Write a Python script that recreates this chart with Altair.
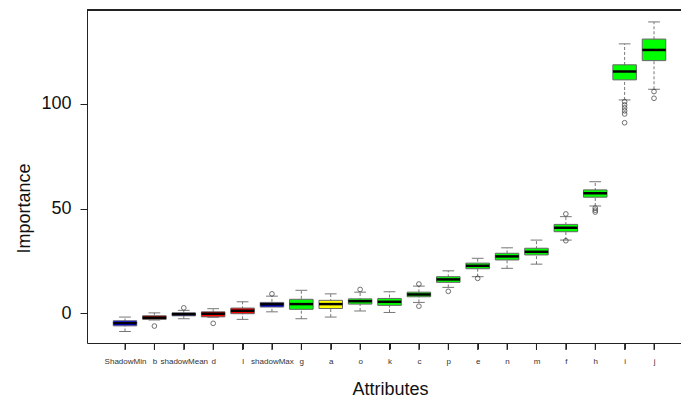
import json
import altair as alt
import pandas as pd

names = ["ShadowMin", "b", "shadowMean", "d", "l", "shadowMax", "g", "a", "o", "k",
         "c", "p", "e", "n", "m", "f", "h", "i", "j"]
decision = ["Shadow", "Rejected", "Shadow", "Rejected", "Rejected", "Shadow", "Confirmed",
            "Tentative", "Confirmed", "Confirmed", "Confirmed", "Confirmed", "Confirmed",
            "Confirmed", "Confirmed", "Confirmed", "Confirmed", "Confirmed", "Confirmed"]
lower = [-8.8, -3.3, -2.7, -2.0, -3.0, 0.6, -2.7, -1.9, 1.0, 0.3,
         5.1, 12.3, 17.4, 21.4, 23.4, 34.9, 51.2, 101.9, 107.0]
q1 = [-6.1, -3.0, -1.3, -1.8, -0.3, 2.9, 1.8, 2.2, 4.3, 3.7,
      7.8, 14.7, 21.2, 25.4, 27.8, 38.9, 55.4, 111.5, 120.7]
median = [-4.8, -2.2, -0.5, -0.3, 1.1, 4.2, 4.3, 4.3, 5.7, 5.4,
          8.9, 16.1, 22.6, 27.1, 29.3, 40.8, 57.3, 115.5, 125.8]
q3 = [-3.7, -1.3, 0.1, 0.6, 2.4, 5.1, 6.6, 6.1, 6.8, 7.0,
      10.0, 17.4, 23.9, 28.6, 31.0, 42.4, 58.9, 118.7, 131.0]
upper = [-1.9, 0.1, 1.3, 2.1, 5.4, 8.1, 10.9, 9.2, 10.0, 10.2,
         12.9, 20.2, 26.2, 31.2, 34.9, 46.1, 62.8, 128.7, 139.2]

out_attr = ["b", "shadowMean", "d", "shadowMax", "o", "c", "c", "p", "e", "f", "f",
            "h", "h", "h", "i", "i", "i", "i", "i", "i", "j", "j"]
out_val = [-6.2, 2.5, -4.9, 9.2, 11.3, 13.9, 3.3, 10.4, 16.6, 47.4, 34.6,
           50.2, 49.2, 48.3, 101.1, 99.5, 98.1, 96.7, 95.2, 91.0, 105.9, 102.7]

dec_domain = ["Shadow", "Rejected", "Tentative", "Confirmed"]
dec_colors = ["#0000FF", "#FF0000", "#FFFF00", "#00FF00"]

boxes = pd.DataFrame({
    "attr": names, "idx": list(range(1, len(names) + 1)), "decision": decision,
    "lower": lower, "q1": q1, "median": median, "q3": q3, "upper": upper,
})
pos = {n: i + 1 for i, n in enumerate(names)}
outs = pd.DataFrame({"attr": out_attr, "idx": [pos[a] for a in out_attr], "value": out_val})

FONT = "Liberation Sans"
xscale = alt.Scale(domain=[-0.293, 19.918], nice=False, zero=False)
yscale = alt.Scale(domain=[-14.3, 144.9], nice=False, zero=False)

label_expr = json.dumps(names) + "[round(datum.value) - 1]"

xaxis = alt.Axis(
    values=list(range(1, len(names) + 1)), labelExpr=label_expr, labelOverlap=False,
    labelFlush=False, labelFontSize=8, labelColor="#333333", labelFont=FONT,
    labelPadding=8, ticks=True, tickSize=6, tickColor="#222222", domainColor="#222222",
    grid=False, title="Attributes", titleFont=FONT, titleFontSize=18,
    titleFontWeight="normal", titleColor="#111111", titleX=303, titleY=51,
    titleBaseline="alphabetic", titleAlign="center",
)
yaxis = alt.Axis(
    values=[0, 50, 100], labelFontSize=18, labelFont=FONT, labelColor="#111111",
    labelPadding=9, tickSize=7, tickColor="#222222", domainColor="#222222",
    grid=False, title="Importance", titleFont=FONT, titleFontSize=18,
    titleFontWeight="normal", titleColor="#111111", titleAngle=270, titleX=-58,
    titleY=198, titleBaseline="alphabetic", titleAlign="center",
)

base = alt.Chart(boxes)

whisker = base.mark_rule(color="#777777", strokeDash=[3, 2], strokeWidth=1).encode(
    x=alt.X("idx:Q", scale=xscale, axis=xaxis),
    y=alt.Y("lower:Q", scale=yscale, axis=yaxis),
    y2="upper:Q",
)

calc = dict(a="datum.idx - 0.2", b="datum.idx + 0.2")
wide = dict(a="datum.idx - 0.4", b="datum.idx + 0.4")

staple_lo = base.transform_calculate(**calc).mark_rule(
    color="#777777", strokeWidth=1).encode(
    x=alt.X("a:Q", scale=xscale, axis=xaxis), x2="b:Q",
    y=alt.Y("lower:Q", scale=yscale, axis=yaxis))
staple_hi = base.transform_calculate(**calc).mark_rule(
    color="#777777", strokeWidth=1).encode(
    x=alt.X("a:Q", scale=xscale, axis=xaxis), x2="b:Q",
    y=alt.Y("upper:Q", scale=yscale, axis=yaxis))

box = base.transform_calculate(**wide).mark_rect(
    stroke="#666666", strokeWidth=1).encode(
    x=alt.X("a:Q", scale=xscale, axis=xaxis), x2="b:Q",
    y=alt.Y("q1:Q", scale=yscale, axis=yaxis), y2="q3:Q",
    color=alt.Color("decision:N", scale=alt.Scale(domain=dec_domain, range=dec_colors),
                    legend=None),
)

med = base.transform_calculate(**wide).mark_rule(
    color="#000000", strokeWidth=2.5).encode(
    x=alt.X("a:Q", scale=xscale, axis=xaxis), x2="b:Q",
    y=alt.Y("median:Q", scale=yscale, axis=yaxis))

points = alt.Chart(outs).mark_point(shape="circle", filled=False, size=22,
                                    color="#333333", strokeWidth=1).encode(
    x=alt.X("idx:Q", scale=xscale, axis=xaxis),
    y=alt.Y("value:Q", scale=yscale, axis=yaxis))

xticks = base.mark_rule(color="#222222", strokeWidth=1).encode(
    x=alt.X("idx:Q", scale=xscale, axis=xaxis),
    y=alt.value(333), y2=alt.value(340))

top_line = alt.Chart(boxes).mark_rule(color="#222222", strokeWidth=1).encode(
    x=alt.value(0), x2=alt.value(594), y=alt.value(0))

chart = alt.layer(whisker, staple_lo, staple_hi, box, med, points, xticks,
                  top_line).properties(
    width=594, height=333,
    autosize=alt.AutoSizeParams(type="none"),
    padding={"left": 87, "top": 10, "right": 0, "bottom": 56},
    background="white",
).configure_view(strokeWidth=0)

chart.save("out.html", embed_options={"renderer": "svg", "actions": False})
